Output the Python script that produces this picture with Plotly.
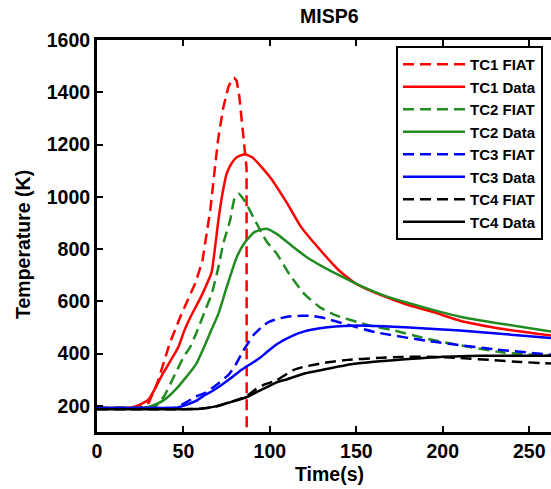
import plotly.graph_objects as go

# ---- data ----
tc1_fiat_t = [0, 10, 20, 25, 30, 35, 42, 48, 57, 61, 65.5, 70, 73, 76, 78, 79.5, 80.8, 82.3, 84, 85.8, 86.5, 86.6]
tc1_fiat_T = [192, 192, 193, 197, 213, 289, 438, 538, 672, 756, 948, 1217, 1340, 1420, 1447, 1454, 1444, 1385, 1268, 1152, 1110, 50]

tc1_data_t = [0, 10, 20, 24.5, 30, 38, 47, 50.5, 54, 60, 64.4, 66.3, 70.2, 72.5, 75, 78, 81, 85.6, 90, 100, 110, 118, 128, 140, 150, 165, 181, 195, 210, 235, 262.6]
tc1_data_T = [192, 192, 194, 204, 226, 322, 424, 488, 539, 615, 680, 711, 910, 1010, 1089, 1130, 1152, 1163, 1150, 1076, 975, 885, 805, 718, 667, 622, 584, 558, 526, 494, 469]

tc2_fiat_t = [0, 20, 30, 34, 38.9, 44.7, 50.5, 53.8, 57.5, 62.5, 66.3, 70.2, 73, 77, 79.8, 82, 86, 90.4, 98, 104, 111.6, 120, 129, 138.6, 150, 158, 171, 190, 206, 235, 262.6]
tc2_fiat_T = [192, 192, 193, 200, 238, 315, 392, 424, 480, 564, 628, 730, 820, 910, 1000, 1012, 978, 922, 830, 782, 700, 628, 577, 545, 522, 507, 490, 458, 437, 404, 392]

tc2_data_t = [0, 20, 30, 38, 45.7, 57.3, 66, 70.2, 75, 80.8, 85.6, 91, 98, 104, 113.5, 122, 130, 140, 150, 165, 181, 210, 235, 262.6]
tc2_data_T = [192, 192, 196, 219, 264, 360, 488, 552, 654, 769, 826, 865, 878, 858, 808, 766, 735, 700, 667, 625, 592, 541, 513, 485]

tc3_fiat_t = [0, 30, 45, 51.5, 57, 63, 70, 76.5, 80.4, 84.6, 90.4, 95, 99, 104, 110, 118, 123, 130, 142.5, 161.8, 190.7, 229, 262.6]
tc3_fiat_T = [192, 192, 193, 213, 235, 251, 285, 322, 360, 411, 470, 500, 520, 532, 541, 545, 545, 538, 515, 481, 449, 417, 396]

tc3_data_t = [0, 40, 45.7, 52, 57.3, 62, 67, 72, 76.5, 84.3, 90, 94.3, 99, 104, 113.6, 120, 129, 138, 148, 160, 171.4, 190, 210, 235, 262.6]
tc3_data_T = [192, 192, 193, 205, 219, 240, 258, 280, 302, 341, 365, 384, 410, 436, 470, 485, 497, 504, 507, 506, 503, 496, 488, 475, 460]

tc4_fiat_t = [0, 40, 60, 70, 76.5, 86, 92, 97, 103.5, 113.5, 120, 132.8, 145, 161.8, 175, 190.7, 210, 229, 245, 262.6]
tc4_fiat_T = [187, 187, 189, 199, 213, 235, 264, 282, 296, 337, 350, 366, 376, 383, 387, 388, 383, 375, 368, 362]

tc4_data_t = [0, 40, 60, 68, 76.5, 86, 95.8, 100, 103.5, 110, 119, 132.8, 148, 160, 171.4, 185, 200, 215, 230, 262.6]
tc4_data_T = [187, 187, 189, 197, 213, 232, 264, 277, 289, 302, 322, 341, 360, 369, 375, 381, 388, 391, 392, 392]

x_ticks = [0, 50, 100, 150, 200, 250]
y_ticks = [200, 400, 600, 800, 1000, 1200, 1400, 1600]

RED = "#FF0000"
GREEN = "#228B22"
BLUE = "#0000FF"
BLACK = "#000000"
DASH = "11px,6px"
FONT = "Liberation Sans"

series = [
    ("TC1 FIAT", tc1_fiat_t, tc1_fiat_T, RED, DASH, "linear"),
    ("TC1 Data", tc1_data_t, tc1_data_T, RED, "solid", "spline"),
    ("TC2 FIAT", tc2_fiat_t, tc2_fiat_T, GREEN, DASH, "spline"),
    ("TC2 Data", tc2_data_t, tc2_data_T, GREEN, "solid", "spline"),
    ("TC3 FIAT", tc3_fiat_t, tc3_fiat_T, BLUE, DASH, "spline"),
    ("TC3 Data", tc3_data_t, tc3_data_T, BLUE, "solid", "spline"),
    ("TC4 FIAT", tc4_fiat_t, tc4_fiat_T, BLACK, DASH, "spline"),
    ("TC4 Data", tc4_data_t, tc4_data_T, BLACK, "solid", "spline"),
]

fig = go.Figure()
for name, t, T, col, dash, shape in series:
    line = dict(color=col, width=2.5, dash=dash, shape=shape)
    if shape == "spline":
        line["smoothing"] = 0.5
    fig.add_trace(go.Scatter(x=t, y=T, mode="lines", name=name, line=line))

W, H = 551, 489
L, R, T_, B = 97, 0, 40, 57
pw = W - L - R
ph = H - T_ - B

def px_x(x):
    return (x - L) / pw

def px_y(y):
    return (H - B - y) / ph

fig.update_layout(
    width=W, height=H,
    margin=dict(l=L, r=R, t=T_, b=B, autoexpand=False),
    paper_bgcolor="white", plot_bgcolor="white",
    font=dict(family=FONT, size=18, color="black", weight=700),
    showlegend=True,
    legend=dict(
        x=px_x(396), y=px_y(46), xanchor="left", yanchor="top",
        bgcolor="white", bordercolor="black", borderwidth=2,
        font=dict(family=FONT, size=15, color="black", weight=700),
        itemwidth=62, tracegroupgap=0,
    ),
    xaxis=dict(
        range=[0, 262.6], tickvals=x_ticks, ticktext=[str(v) for v in x_ticks],
        showline=True, linecolor="black", linewidth=3, mirror="ticks",
        ticks="inside", ticklen=6, tickwidth=2, tickcolor="black",
        showgrid=False, zeroline=False,
        tickfont=dict(family=FONT, size=19.5, color="black", weight=700),
    ),
    yaxis=dict(
        range=[100, 1600], tickvals=y_ticks, ticktext=[str(v) for v in y_ticks],
        showline=True, linecolor="black", linewidth=3, mirror=False,
        ticks="inside", ticklen=6, tickwidth=2, tickcolor="black",
        showgrid=False, zeroline=False,
        tickfont=dict(family=FONT, size=19.5, color="black", weight=700),
    ),
    annotations=[
        dict(text="MISP6", x=px_x(329), y=px_y(16), xref="paper", yref="paper",
             xanchor="center", yanchor="middle", showarrow=False,
             font=dict(family=FONT, size=19.5, color="black", weight=700)),
        dict(text="Time(s)", x=px_x(329), y=px_y(474), xref="paper", yref="paper",
             xanchor="center", yanchor="middle", showarrow=False,
             font=dict(family=FONT, size=19.5, color="black", weight=700)),
        dict(text="Temperature (K)", x=px_x(23), y=px_y(245), xref="paper", yref="paper",
             xanchor="center", yanchor="middle", showarrow=False, textangle=-90,
             font=dict(family=FONT, size=19.5, color="black", weight=700)),
    ],
)

fig.write_html(
    "out.html",
    config={"displayModeBar": False},
    post_script="document.body.style.margin='0';document.body.style.overflow='hidden';",
)
